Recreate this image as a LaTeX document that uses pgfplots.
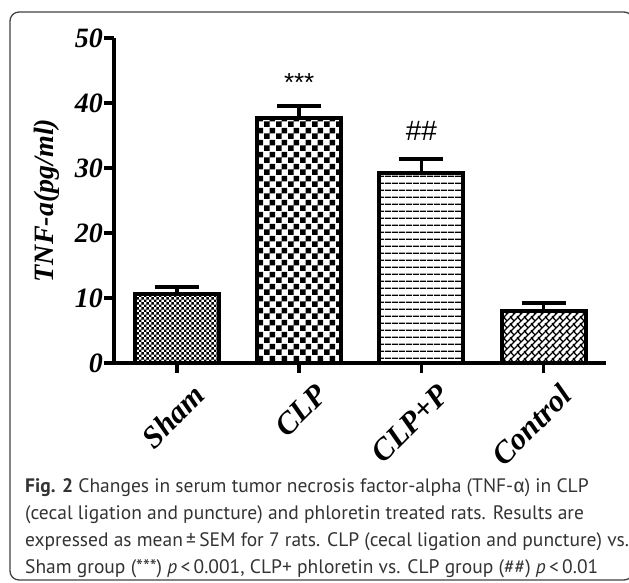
\documentclass[border=0pt]{standalone}
\usepackage{pgfplots}
\pgfplotsset{compat=1.18}
\usepackage{fontspec}
\setmainfont{Liberation Serif}
\newfontfamily\capfont{PT Sans}
\newfontfamily\grk{Fira Sans}
\newfontfamily\arial{Liberation Sans}
\usetikzlibrary{patterns}

\pgfdeclarepatternformonly{myfinecheck}{\pgfqpoint{0pt}{0pt}}{\pgfqpoint{5.4pt}{5.4pt}}{\pgfqpoint{5.4pt}{5.4pt}}{%
  \pgfpathrectangle{\pgfqpoint{0pt}{0pt}}{\pgfqpoint{2.7pt}{2.7pt}}%
  \pgfpathrectangle{\pgfqpoint{2.7pt}{2.7pt}}{\pgfqpoint{2.7pt}{2.7pt}}%
  \pgfusepath{fill}}
\pgfdeclarepatternformonly{mycoarsecheck}{\pgfqpoint{0pt}{0pt}}{\pgfqpoint{12pt}{12pt}}{\pgfqpoint{12pt}{12pt}}{%
  \pgfpathrectangle{\pgfqpoint{0pt}{0pt}}{\pgfqpoint{6pt}{6pt}}%
  \pgfpathrectangle{\pgfqpoint{6pt}{6pt}}{\pgfqpoint{6pt}{6pt}}%
  \pgfusepath{fill}}
\pgfdeclarepatternformonly{myhlines}{\pgfqpoint{0pt}{0pt}}{\pgfqpoint{7pt}{7pt}}{\pgfqpoint{7pt}{7pt}}{%
  \pgfpathrectangle{\pgfqpoint{0pt}{0pt}}{\pgfqpoint{7pt}{1.5pt}}%
  \pgfusepath{fill}}
\pgfdeclarepatternformonly{mybrickdiag}{\pgfqpoint{0pt}{0pt}}{\pgfqpoint{7pt}{7pt}}{\pgfqpoint{7pt}{7pt}}{%
  \pgfsetlinewidth{1.4pt}%
  \pgfpathmoveto{\pgfqpoint{-1pt}{-1pt}}\pgfpathlineto{\pgfqpoint{8pt}{8pt}}%
  \pgfpathmoveto{\pgfqpoint{-1pt}{6pt}}\pgfpathlineto{\pgfqpoint{1pt}{8pt}}%
  \pgfpathmoveto{\pgfqpoint{6pt}{-1pt}}\pgfpathlineto{\pgfqpoint{8pt}{1pt}}%
  \pgfpathmoveto{\pgfqpoint{3.5pt}{3.5pt}}\pgfpathlineto{\pgfqpoint{0pt}{7pt}}%
  \pgfusepath{stroke}}

\begin{document}
\begin{tikzpicture}[x=1pt,y=1pt]
\useasboundingbox (0,0) rectangle (629,582);
\begin{scope}
\clip (0,0) rectangle (629,582);
\draw[line width=1.3pt, black!75, rounded corners=9pt] (10,2) rectangle (633,570);
\end{scope}
\begin{axis}[
  at={(114pt,219pt)}, anchor=south west,
  scale only axis, width=492pt, height=325pt,
  xmin=-0.515, xmax=3.51, ymin=0, ymax=50,
  clip=false,
  axis x line*=bottom, axis y line*=left,
  axis line style={line width=3.6pt, -},
  xtick={0,1,2,3}, xticklabels={Sham,CLP,CLP+P,Control},
  ytick={0,10,20,30,40,50},
  tick align=outside, major tick length=10pt,
  every tick/.style={line width=3.6pt, black},
  /pgf/number format/assume math mode=true,
  xticklabel style={font=\fontsize{31}{31}\selectfont\bfseries\itshape, rotate=45, anchor=north east, inner sep=0pt, yshift=-17pt, xshift=4pt},
  yticklabel style={font=\fontsize{28}{28}\selectfont\bfseries\itshape, inner sep=1pt},
  ylabel={TNF-a(pg/ml)},
  ylabel style={font=\fontsize{28}{28}\selectfont\bfseries\itshape, at={(axis description cs:-0.11,0.5)}, anchor=south, inner sep=0pt},
  error bars/error bar style={line width=3.6pt, black},
  error bars/error mark options={rotate=90, mark size=22pt, line width=3.6pt, black},
]
\addplot[ybar, bar shift=0pt, bar width=84pt, draw=black, line width=4pt, pattern=myfinecheck,
  error bars/.cd, y dir=plus, y explicit] coordinates {(0,10.6) +- (0,1.1)};
\addplot[ybar, bar shift=0pt, bar width=84pt, draw=black, line width=4pt, pattern=mycoarsecheck,
  error bars/.cd, y dir=plus, y explicit] coordinates {(1,37.7) +- (0,1.8)};
\addplot[ybar, bar shift=0pt, bar width=84pt, draw=black, line width=4pt, pattern=myhlines,
  error bars/.cd, y dir=plus, y explicit] coordinates {(2,29.2) +- (0,2.2)};
\addplot[ybar, bar shift=0pt, bar width=84pt, draw=black, line width=4pt, pattern=mybrickdiag,
  error bars/.cd, y dir=plus, y explicit] coordinates {(3,8.0) +- (0,1.2)};
\node[font=\arial\fontsize{26}{26}\selectfont, anchor=base] at (axis cs:1,41.7) {***};
\node[font=\arial\fontsize{28}{28}\selectfont, anchor=base] at (axis cs:2,34.3) {\#\#};
\end{axis}
\begin{scope}[every node/.style={anchor=base west, inner sep=0pt, font=\capfont\fontsize{19.5}{20}\selectfont, text=black!80}]
\node at (25,90) {\textbf{Fig. 2} Changes in serum tumor necrosis factor-alpha (TNF-{\grk α}) in CLP};
\node at (25,63) {(cecal ligation and puncture) and phloretin treated rats. Results are};
\node at (25,36) {expressed as mean\,±\,SEM for 7 rats. CLP (cecal ligation and puncture) vs.};
\node at (25,9) {Sham group (***) \textit{p}\,<\,0.001, CLP+ phloretin vs. CLP group (\#\#) \textit{p}\,<\,0.01};
\end{scope}
\end{tikzpicture}
\end{document}
